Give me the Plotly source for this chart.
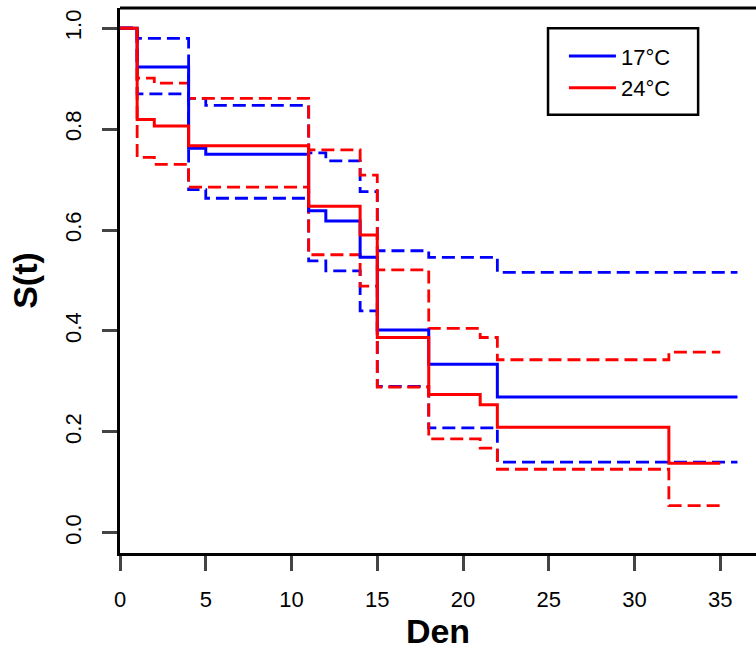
import plotly.graph_objects as go

# 17°C
t17 = [0, 1, 4, 5, 11, 12, 14, 15, 18, 22, 36]
s17 = [1.0, 0.923, 0.762, 0.750, 0.638, 0.618, 0.546, 0.402, 0.334, 0.269, 0.269]
u17 = [1.0, 0.980, 0.861, 0.847, 0.753, 0.737, 0.676, 0.559, 0.546, 0.516, 0.516]
l17 = [1.0, 0.870, 0.680, 0.663, 0.539, 0.519, 0.440, 0.290, 0.208, 0.140, 0.140]

# 24°C
t24 = [0, 1, 2, 4, 11, 14, 15, 18, 21, 22, 32, 35]
s24 = [1.0, 0.819, 0.806, 0.767, 0.647, 0.590, 0.387, 0.274, 0.254, 0.209, 0.138, 0.138]
u24 = [1.0, 0.901, 0.891, 0.861, 0.759, 0.709, 0.521, 0.405, 0.387, 0.343, 0.358, 0.358]
l24 = [1.0, 0.744, 0.730, 0.685, 0.551, 0.489, 0.289, 0.186, 0.168, 0.126, 0.054, 0.054]

x_ticks = [0, 5, 10, 15, 20, 25, 30, 35]
y_ticks = [0.0, 0.2, 0.4, 0.6, 0.8, 1.0]
y_ticktext = ["0.0", "0.2", "0.4", "0.6", "0.8", "1.0"]

BLUE = "#0000FF"
RED = "#FF0000"
DASH = "13px,6px"

fig = go.Figure()
for t, u, l, c in [(t17, u17, l17, BLUE), (t24, u24, l24, RED)]:
    for v in (u, l):
        fig.add_trace(go.Scatter(x=t, y=v, mode="lines", line=dict(color=c, width=2.8, dash=DASH, shape="hv"),
                                 showlegend=False, hoverinfo="skip"))
fig.add_trace(go.Scatter(x=t17, y=s17, mode="lines", name="17°C",
                         line=dict(color=BLUE, width=3, shape="hv")))
fig.add_trace(go.Scatter(x=t24, y=s24, mode="lines", name="24°C",
                         line=dict(color=RED, width=3, shape="hv")))

font = "Liberation Sans, Arial, sans-serif"
fig.update_layout(
    width=756, height=653,
    margin=dict(l=120, r=0, t=8, b=100),
    plot_bgcolor="white", paper_bgcolor="white",
    font=dict(family=font, color="black", size=22),
    showlegend=True,
    legend=dict(x=0.698, y=0.950, xanchor="left", yanchor="top", bgcolor="rgba(0,0,0,0)",
                borderwidth=0, font=dict(size=22), itemwidth=47, tracegroupgap=0),
    xaxis=dict(range=[0, 37.08], tickvals=x_ticks, ticks="outside", ticklen=15, tickwidth=3,
               showline=True, linewidth=3, linecolor="black", showgrid=False, zeroline=False,
               tickfont=dict(size=22), ticklabelstandoff=10,
               title=dict(text="<b>Den</b>", font=dict(size=34), standoff=2)),
    yaxis=dict(range=[-0.04, 1.04], tickvals=y_ticks, ticktext=y_ticktext, ticks="outside", ticklen=15,
               tickwidth=3, tickangle=-90, showline=True, linewidth=3, linecolor="black",
               showgrid=False, zeroline=False, tickfont=dict(size=22), ticklabelstandoff=12,
               title=dict(text="<b>S(t)</b>", font=dict(size=34), standoff=14)),
    shapes=[
        dict(type="line", xref="paper", yref="paper", x0=0, x1=1, y0=1, y1=1,
             line=dict(color="black", width=3)),
        dict(type="rect", xref="paper", yref="paper", x0=0.673, x1=0.909, y0=0.804, y1=0.963,
             line=dict(color="black", width=2.5)),
    ],
)
fig.write_html("out.html")
